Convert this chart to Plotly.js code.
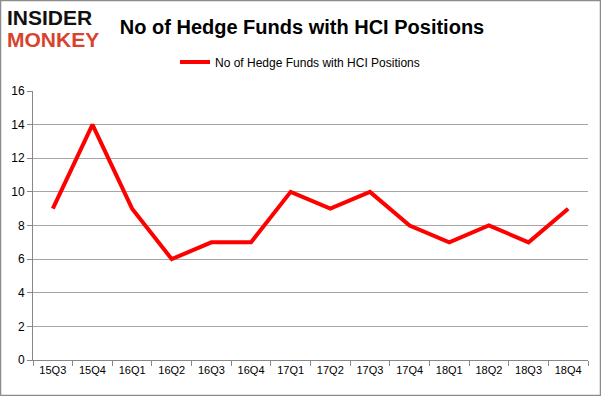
<!DOCTYPE html>
<html>
<head>
<meta charset="utf-8">
<script src="https://cdn.plot.ly/plotly-3.0.1.min.js"></script>
<style>html,body{margin:0;padding:0;background:#fff;}#chart{width:601px;height:396px;}</style>
</head>
<body>
<div id="chart"></div>
<script>
const categories = ["15Q3","15Q4","16Q1","16Q2","16Q3","16Q4","17Q1","17Q2","17Q3","17Q4","18Q1","18Q2","18Q3","18Q4"];
const hedgeFunds = [9,14,9,6,7,7,10,9,10,8,7,8,7,9];
const yTicks = [0,2,4,6,8,10,12,14,16];
const seriesName = "No of Hedge Funds with HCI Positions";
const titleText = "No of Hedge Funds with HCI Positions";

const W = 601, H = 396, L = 33, R = 13, T = 91, B = 36;
const pw = W - L - R, ph = H - T - B;
const px = x => (x - L) / pw;
const py = y => (H - B - y) / ph;

const trace = {
  x: categories, y: hedgeFunds, type: "scatter", mode: "lines",
  name: seriesName,
  line: {color: "#ff0000", width: 4}
};

const layout = {
  width: W, height: H,
  margin: {l: L, r: R, t: T, b: B},
  paper_bgcolor: "#fff", plot_bgcolor: "#fff",
  font: {family: "Liberation Sans, Arial, sans-serif", size: 11, color: "#000"},
  title: {text: titleText, font: {family: "Liberation Sans, Arial, sans-serif", size: 20, color: "#000", weight: "bold"},
          x: px(302), xref: "paper", xanchor: "center", y: 1 - 27 / H, yanchor: "middle", yref: "container"},
  showlegend: true,
  legend: {orientation: "h", x: px(300), xanchor: "center", y: py(62), yanchor: "middle",
           font: {size: 12, color: "#000"}, bgcolor: "rgba(0,0,0,0)"},
  xaxis: {type: "category", range: [-0.5, 13.5], tickson: "boundaries", ticks: "outside", ticklen: 5,
          tickcolor: "#888", showline: true, linecolor: "#888", linewidth: 1, showgrid: false,
          tickfont: {size: 11}, fixedrange: true},
  yaxis: {range: [0, 16], tickvals: yTicks, ticktext: yTicks.map(String), ticks: "outside", ticklen: 5,
          tickcolor: "#888", showline: true, linecolor: "#888", linewidth: 1,
          showgrid: true, gridcolor: "#a6a6a6", gridwidth: 1, zeroline: false,
          tickfont: {size: 12}, fixedrange: true},
  annotations: [
    {text: "INSIDER", xref: "paper", yref: "paper", x: px(5), y: py(17), xanchor: "left", yanchor: "middle",
     showarrow: false, font: {family: "Liberation Sans, Arial, sans-serif", size: 21, color: "#111", weight: "bold"}},
    {text: "MONKEY", xref: "paper", yref: "paper", x: px(5), y: py(40), xanchor: "left", yanchor: "middle",
     showarrow: false, font: {family: "Liberation Sans, Arial, sans-serif", size: 21, color: "#d8432e", weight: "bold"}}
  ],
  shapes: [
    {type: "rect", xref: "paper", yref: "paper", x0: px(0.5), x1: px(W - 0.5), y0: py(H - 0.5), y1: py(0.5),
     line: {color: "#8c8c8c", width: 1.5}, fillcolor: "rgba(0,0,0,0)"}
  ]
};

Plotly.newPlot("chart", [trace], layout, {displayModeBar: false, staticPlot: true});
</script>
</body>
</html>
